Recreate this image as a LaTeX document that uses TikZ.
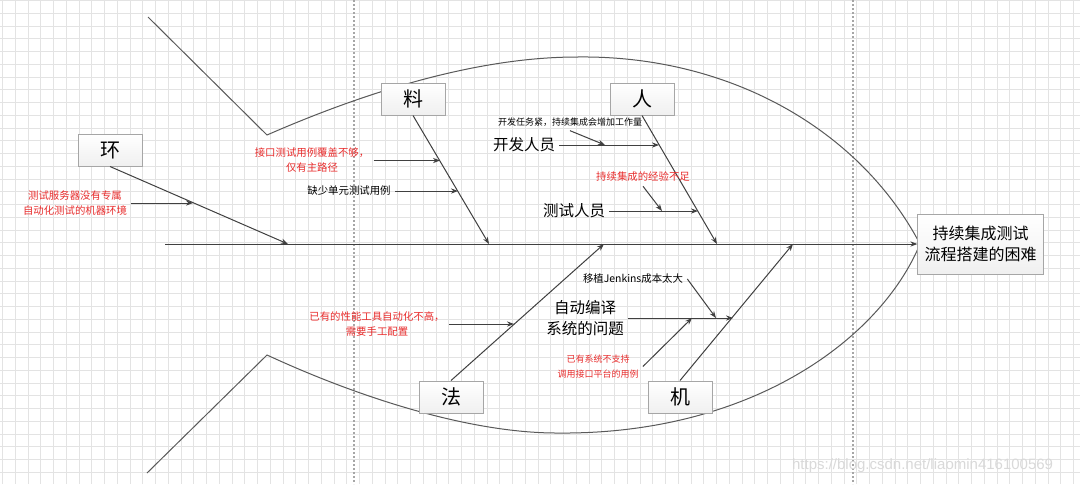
\documentclass[tikz,border=0pt]{standalone}
\usepackage{fontspec}
\setmainfont{Noto Sans CJK SC}
\newfontfamily\wmfont{Liberation Sans}
\usetikzlibrary{arrows.meta}
\definecolor{causered}{RGB}{232,45,45}

\begin{document}
\begin{tikzpicture}[x=0.5pt,y=-0.5pt]
    \tikzset{gridline/.style={draw=gray!22, line width=0.35pt}}
    \tikzset{sepline/.style={draw=gray!70, line width=0.9pt, dash pattern=on 1.2pt off 0.8pt}}
    \tikzset{fishline/.style={draw=black!65, line width=0.5pt}}
    \tikzset{bone/.style={draw=black!75, line width=0.5pt, -{Stealth[length=3.5pt,width=2.6pt]}}}
    \tikzset{base/.style = {rectangle, draw=gray!70, line width=0.5pt,
                           top color=white, bottom color=gray!12, text centered}}
    \tikzset{category/.style = {base, minimum width=32pt, minimum height=16pt,
                               font=\fontsize{10}{12}\selectfont}}
    \tikzset{effect/.style = {base, minimum width=60.5pt, minimum height=30pt,
                             align=center, font=\fontsize{8}{10.5}\selectfont}}
    \tikzset{note/.style = {inner sep=2pt, align=center, font=\fontsize{5.2}{7.5}\selectfont}}
    \tikzset{rednote/.style = {note, text=causered}}
    \tikzset{tinynote/.style = {note, font=\fontsize{4.5}{7.3}\selectfont}}
    \tikzset{cause/.style = {inner sep=2pt, align=center, font=\fontsize{7.75}{10.5}\selectfont}}

    \useasboundingbox (0,0) rectangle (1080,484);
    \fill[white] (0,0) rectangle (1080,484);

    % grid paper
    \foreach \gx in {2.5,15.25,...,1080}
        \draw[gridline] (\gx,0) -- (\gx,484);
    \foreach \gy in {0.5,13.25,...,484}
        \draw[gridline] (0,\gy) -- (1080,\gy);
    \draw[sepline] (354,0) -- (354,484);
    \draw[sepline] (853,0) -- (853,484);

    % fish outline
    \draw[fishline] (148,17) -- (267,135) .. controls (370,90) and (480,57) .. (577,57)
        .. controls (730,55) and (860,130) .. (920,244);
    \draw[fishline] (147,473) -- (267,355) .. controls (360,398) and (470,433) .. (557,433)
        .. controls (750,435) and (880,340) .. (920,244);

    % head and categories
    \node (head) [effect] at (980.5,244) {持续集成测试\\流程搭建的困难};
    \node (huan) [category] at (110,150) {环};
    \node (liao) [category] at (413,99) {料};
    \node (ren) [category] at (642,99) {人};
    \node (fa) [category] at (451,397) {法};
    \node (ji) [category] at (680,397) {机};

    % spine and bones
    \coordinate (tail) at (165,244);
    \coordinate (huanend) at (288,244);
    \coordinate (liaoend) at (489,244);
    \coordinate (renend) at (717,244);
    \coordinate (faend) at (604,244);
    \coordinate (jiend) at (793,244);

    \draw[bone] (tail) -- (head.west);
    \draw[bone] (huan.south) -- (huanend);
    \draw[bone] (liao.south) -- (liaoend);
    \draw[bone] (ren.south) -- (renend);
    \draw[bone] (fa.north) -- (faend);
    \draw[bone] (ji.north) -- (jiend);

    % causes
    \node (huanA) [rednote] at (75,203) {测试服务器没有专属\\自动化测试的机器环境};
    \node (liaoA) [rednote] at (312,160.5) {接口测试用例覆盖不够，\\仅有主路径};
    \node (liaoB) [note] at (349,191) {缺少单元测试用例};
    \node (renA) [cause] at (524,145) {开发人员};
    \node (renAnote) [tinynote] at (570,122) {开发任务紧，持续集成会增加工作量};
    \node (renB) [cause] at (574,211) {测试人员};
    \node (renBnote) [rednote] at (643,177) {持续集成的经验不足};
    \node (faA) [rednote] at (377,324) {已有的性能工具自动化不高，\\需要手工配置};
    \node (jiA) [cause] at (585,318) {自动编译\\系统的问题};
    \node (jiAnote) [note] at (633,279) {移植Jenkins成本太大};
    \node (jiBnote) [tinynote, text=causered] at (598,366.5) {已有系统不支持\\调用接口平台的用例};

    \coordinate (huanAend) at (193,203);
    \coordinate (liaoAend) at (440,160.5);
    \coordinate (liaoBend) at (458,191);
    \coordinate (renAend) at (659,145);
    \coordinate (renAnoteend) at (605,145);
    \coordinate (renBend) at (698,211);
    \coordinate (renBnoteend) at (662,211);
    \coordinate (faAend) at (514,324);
    \coordinate (jiAend) at (733,318);
    \coordinate (jiAnoteend) at (716,318);
    \coordinate (jiBnoteend) at (692,318);

    \draw[bone] (huanA) -- (huanAend);
    \draw[bone] (liaoA) -- (liaoAend);
    \draw[bone] (liaoB) -- (liaoBend);
    \draw[bone] (renA) -- (renAend);
    \draw[bone] (renAnote.south) -- (renAnoteend);
    \draw[bone] (renB) -- (renBend);
    \draw[bone] (renBnote.south) -- (renBnoteend);
    \draw[bone] (faA) -- (faAend);
    \draw[bone] (jiA) -- (jiAend);
    \draw[bone] (jiAnote.east) -- (jiAnoteend);
    \draw[bone] (jiBnote.east) -- (jiBnoteend);

    \node (mark) [anchor=west, text=gray!30, font=\wmfont\fontsize{7.5}{9}\selectfont]
        at (785,466) {https://blog.csdn.net/liaomin416100569};

\end{tikzpicture}
\end{document}
